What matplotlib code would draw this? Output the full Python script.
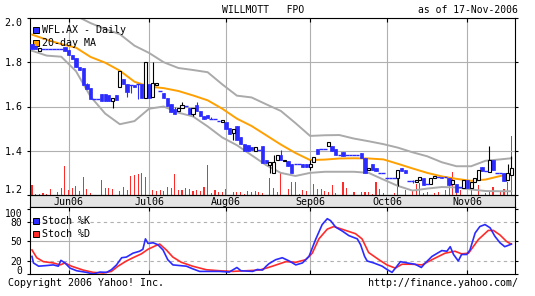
import matplotlib
matplotlib.use("Agg")
import matplotlib.pyplot as plt
from matplotlib.patches import Rectangle

plt.rcParams['font.family'] = 'DejaVu Sans Mono'

# daily candles, trading days 18-May-2006 .. 17-Nov-2006 (index 0..131)
opens = [1.882, 1.875, 1.852, 1.861, 1.861, 1.861, 1.861, 1.861, 1.861, 1.867,
         1.855, 1.835, 1.820, 1.780, 1.775, 1.700, 1.683, 1.633, 1.633, 1.655,
         1.655, 1.653, 1.627, 1.650, 1.690, 1.725, 1.700, 1.697, 1.695, 1.700,
         1.700, 1.640, 1.700, 1.645, 1.695, 1.672, 1.660, 1.640, 1.610, 1.588,
         1.580, 1.592, 1.602, 1.595, 1.565, 1.605, 1.580, 1.558, 1.560, 1.543,
         1.543, 1.535, 1.530, 1.532, 1.505, 1.482, 1.510, 1.460, 1.430, 1.425,
         1.415, 1.400, 1.403, 1.420, 1.360, 1.335, 1.300, 1.360, 1.383, 1.355,
         1.353, 1.340, 1.338, 1.338, 1.338, 1.338, 1.325, 1.350, 1.410, 1.409,
         1.409, 1.420, 1.420, 1.410, 1.383, 1.395, 1.383, 1.380, 1.380, 1.380,
         1.390, 1.368, 1.315, 1.338, 1.323, 1.300, 1.300, 1.277, 1.277, 1.277,
         1.277, 1.320, 1.315, 1.262, 1.262, 1.260, 1.270, 1.277, 1.250, 1.250,
         1.275, 1.283, 1.283, 1.280, 1.277, 1.250, 1.250, 1.235, 1.230, 1.270,
         1.232, 1.260, 1.270, 1.325, 1.308, 1.305, 1.356, 1.300, 1.300, 1.300,
         1.270, 1.290]
highs = [1.882, 1.875, 1.864, 1.861, 1.861, 1.861, 1.861, 1.861, 1.861, 1.867,
         1.855, 1.835, 1.820, 1.780, 1.775, 1.705, 1.683, 1.633, 1.633, 1.655,
         1.655, 1.653, 1.640, 1.650, 1.760, 1.725, 1.700, 1.697, 1.695, 1.700,
         1.700, 1.800, 1.700, 1.800, 1.705, 1.672, 1.660, 1.640, 1.610, 1.600,
         1.595, 1.620, 1.602, 1.595, 1.595, 1.620, 1.580, 1.558, 1.560, 1.553,
         1.543, 1.535, 1.540, 1.532, 1.505, 1.497, 1.510, 1.460, 1.430, 1.425,
         1.415, 1.415, 1.403, 1.420, 1.360, 1.350, 1.380, 1.380, 1.405, 1.357,
         1.353, 1.340, 1.338, 1.338, 1.338, 1.338, 1.360, 1.370, 1.410, 1.409,
         1.409, 1.440, 1.420, 1.410, 1.383, 1.395, 1.383, 1.380, 1.380, 1.380,
         1.390, 1.368, 1.322, 1.338, 1.323, 1.300, 1.300, 1.277, 1.277, 1.277,
         1.315, 1.320, 1.315, 1.262, 1.268, 1.270, 1.280, 1.277, 1.250, 1.277,
         1.285, 1.283, 1.283, 1.280, 1.277, 1.270, 1.250, 1.235, 1.270, 1.270,
         1.260, 1.275, 1.315, 1.325, 1.308, 1.420, 1.356, 1.300, 1.300, 1.300,
         1.340, 1.375]
lows = [1.862, 1.862, 1.852, 1.861, 1.861, 1.861, 1.861, 1.861, 1.861, 1.850,
        1.835, 1.815, 1.780, 1.765, 1.695, 1.680, 1.632, 1.633, 1.633, 1.625,
        1.625, 1.626, 1.595, 1.630, 1.690, 1.700, 1.645, 1.660, 1.688, 1.635,
        1.640, 1.640, 1.640, 1.645, 1.695, 1.672, 1.640, 1.603, 1.573, 1.565,
        1.580, 1.592, 1.602, 1.565, 1.555, 1.580, 1.558, 1.542, 1.550, 1.543,
        1.543, 1.535, 1.530, 1.500, 1.474, 1.450, 1.450, 1.430, 1.400, 1.400,
        1.403, 1.400, 1.403, 1.345, 1.345, 1.300, 1.300, 1.360, 1.360, 1.355,
        1.330, 1.300, 1.338, 1.338, 1.325, 1.325, 1.315, 1.350, 1.385, 1.409,
        1.409, 1.420, 1.400, 1.380, 1.383, 1.375, 1.383, 1.380, 1.380, 1.380,
        1.365, 1.300, 1.315, 1.315, 1.308, 1.300, 1.300, 1.277, 1.277, 1.277,
        1.240, 1.310, 1.300, 1.262, 1.256, 1.260, 1.270, 1.247, 1.250, 1.250,
        1.275, 1.283, 1.277, 1.280, 1.247, 1.250, 1.215, 1.235, 1.230, 1.230,
        1.232, 1.260, 1.270, 1.308, 1.308, 1.305, 1.315, 1.300, 1.300, 1.265,
        1.270, 1.290]
closes = [1.862, 1.862, 1.864, 1.861, 1.861, 1.861, 1.861, 1.861, 1.861, 1.850,
          1.835, 1.815, 1.780, 1.765, 1.695, 1.680, 1.632, 1.633, 1.633, 1.625,
          1.625, 1.626, 1.640, 1.630, 1.760, 1.700, 1.666, 1.697, 1.688, 1.700,
          1.640, 1.800, 1.640, 1.705, 1.705, 1.672, 1.640, 1.603, 1.573, 1.565,
          1.595, 1.608, 1.602, 1.565, 1.595, 1.580, 1.558, 1.542, 1.550, 1.543,
          1.543, 1.535, 1.540, 1.500, 1.474, 1.497, 1.450, 1.430, 1.400, 1.400,
          1.403, 1.415, 1.403, 1.345, 1.345, 1.350, 1.350, 1.380, 1.360, 1.357,
          1.330, 1.300, 1.338, 1.338, 1.325, 1.325, 1.340, 1.370, 1.385, 1.409,
          1.409, 1.440, 1.400, 1.380, 1.383, 1.375, 1.383, 1.380, 1.380, 1.380,
          1.365, 1.300, 1.322, 1.315, 1.308, 1.300, 1.300, 1.277, 1.277, 1.277,
          1.315, 1.310, 1.300, 1.262, 1.262, 1.270, 1.280, 1.247, 1.250, 1.277,
          1.285, 1.283, 1.277, 1.280, 1.247, 1.270, 1.215, 1.235, 1.270, 1.230,
          1.260, 1.275, 1.315, 1.308, 1.308, 1.356, 1.315, 1.300, 1.300, 1.265,
          1.300, 1.320]
# volume, arbitrary units
volume = [10, 1, 1, 2, 1, 6, 0, 3, 7, 29, 5, 7, 9, 4, 18, 6, 2, 0, 0, 15,
          7, 7, 6, 0, 4, 8, 5, 19, 20, 21, 22, 18, 5, 5, 4, 5, 4, 8, 7, 21,
          5, 5, 7, 6, 4, 5, 4, 8, 30, 2, 5, 3, 3, 6, 0, 3, 3, 3, 1, 4,
          3, 4, 3, 2, 0, 17, 7, 3, 23, 0, 6, 13, 13, 1, 5, 4, 11, 11, 6, 6,
          4, 3, 10, 2, 0, 13, 7, 0, 3, 0, 3, 3, 3, 1, 13, 6, 2, 0, 0, 2,
          25, 0, 5, 0, 5, 11, 12, 2, 3, 0, 2, 3, 0, 5, 13, 23, 5, 5, 0, 3,
          5, 0, 10, 0, 2, 3, 8, 0, 3, 6, 13, 59]

# 20-day MA and Bollinger bands, read every 4th day
sample_days = [0, 4, 8, 12, 16, 20, 24, 28, 32, 36, 40, 44, 48, 52, 56, 60, 64,
               68, 72, 76, 80, 84, 88, 92, 96, 100, 104, 108, 112, 116, 120, 124,
               128, 131]
ma20 = [1.925, 1.902, 1.882, 1.866, 1.824, 1.798, 1.762, 1.712, 1.690, 1.683,
        1.670, 1.650, 1.628, 1.590, 1.545, 1.512, 1.470, 1.428, 1.390, 1.358,
        1.360, 1.365, 1.366, 1.365, 1.361, 1.341, 1.320, 1.300, 1.284, 1.273,
        1.264, 1.270, 1.286, 1.293]
bb_upper = [2.06, 2.05, 2.03, 2.01, 1.977, 1.95, 1.927, 1.875, 1.842, 1.80,
            1.774, 1.765, 1.755, 1.70, 1.649, 1.641, 1.61, 1.58, 1.525, 1.467,
            1.47, 1.471, 1.455, 1.443, 1.43, 1.414, 1.393, 1.375, 1.348, 1.33,
            1.33, 1.355, 1.361, 1.366]
bb_lower = [1.852, 1.83, 1.825, 1.76, 1.645, 1.568, 1.52, 1.534, 1.59, 1.60,
            1.572, 1.555, 1.51, 1.46, 1.425, 1.38, 1.335, 1.30, 1.286, 1.30,
            1.305, 1.305, 1.305, 1.30, 1.27, 1.241, 1.22, 1.229, 1.236, 1.234,
            1.225, 1.218, 1.217, 1.217]

# stochastics
k_days = [0, 0.4, 1.8, 4.0, 5.8, 7.2, 7.9, 9.0, 10.4, 12.2, 14.9, 16.7, 18.6,
          20.4, 21.7, 23.1, 24.5, 25.8, 27.6, 29.4, 30.3, 31.0, 31.7, 33.1,
          34.4, 35.8, 37.1, 38.5, 40.3, 42.2, 43.9, 45.8, 48.5, 51.2, 53.9,
          56.0, 57.1, 60.3, 61.6, 63.0, 64.0, 64.8, 66.6, 68.4, 70.3, 72.1,
          73.9, 75.7, 77.5, 79.3, 80.7, 81.6, 83.0, 84.8, 86.6, 88.9, 89.8,
          90.9, 91.6, 93.4, 95.7, 97.0, 98.4, 99.3, 100.7, 102.5, 104.7, 106.4,
          107.5, 109.3, 112.0, 113.4, 114.3, 115.2, 116.5, 117.4, 118.8, 119.7,
          121.1, 122.4, 123.8, 125.2, 126.5, 127.9, 129.2, 130.6, 131]
k_vals = [27, 17, 12, 13, 14, 12, 21, 17, 9, 5, 2.5, 0, 3, 2.5, 6.6, 14, 25,
          26, 32, 35, 38, 54, 47, 48, 45, 37, 22, 14, 13, 12, 8, 4, 4, 4, 3,
          10, 5, 4, 7, 6, 12, 16, 22, 25, 20, 14, 17, 27, 53, 76, 85, 82, 72,
          66, 59, 54, 45, 27, 20, 17, 12, 7, 2.5, 9, 19, 17, 15, 10, 17, 27,
          36, 35, 42, 30, 20, 30, 30, 37, 63, 73, 76, 71, 58, 48, 42, 45, 46]
d_days = [0, 1.3, 3.1, 5.8, 7.7, 9.0, 10.8, 14.0, 16.7, 19.5, 21.7, 23.5, 25.8,
          27.6, 29.9, 31.7, 34.0, 34.9, 36.7, 38.5, 40.8, 43.9, 47.6, 51.2,
          54.8, 58.5, 62.1, 64.0, 65.7, 69.4, 72.1, 74.8, 76.6, 78.4, 80.7,
          82.5, 85.7, 88.4, 90.2, 92.0, 94.8, 97.0, 99.3, 101.1, 103.8, 106.6,
          109.3, 112.9, 115.6, 117.4, 119.3, 122.0, 124.7, 126.1, 127.9, 129.7,
          130.6, 131]
d_vals = [37, 25, 19, 17, 14, 17, 12, 6, 2.5, 1.5, 4, 12, 20, 25, 31, 38, 44,
          46, 37, 26, 18, 12, 6.6, 5, 4, 5, 6, 9, 12, 19, 18, 22, 32, 54, 69,
          73, 67, 62, 54, 33, 22, 14, 9, 15, 15, 14, 22, 32, 35, 31, 32, 53, 67,
          67, 60, 50, 47, 46]

month_days = [10, 32, 53, 76, 97, 119]
month_labels = ['Jun06', 'Jul06', 'Aug06', 'Sep06', 'Oct06', 'Nov06']
price_ticks = [1.2, 1.4, 1.6, 1.8, 2.0]
stoch_ticks = [0, 20, 50, 80, 100]

BLUE = '#2b2bff'
RED = '#ff2b2b'
ORANGE = '#ffa000'
BAND = '#aaaaaa'
GRID = '#b0b0b0'

W, H = 535, 296
fig = plt.figure(figsize=(W / 100, H / 100), dpi=100)


def rect(l, t, r, b):
    return [l / W, 1 - b / H, (r - l) / W, (b - t) / H]


ax = fig.add_axes(rect(30, 18, 515, 195))
axv = ax.twinx()
band = fig.add_axes(rect(30, 195, 515, 207))
sto = fig.add_axes(rect(30, 207, 515, 274))
xlim = (-0.55, 132.0)
days = list(range(len(closes)))

# volume sits behind the price panel
axv.bar(days, volume, width=0.3, color=RED, linewidth=0)
axv.set_ylim(0, 177)
axv.axis('off')
ax.set_zorder(axv.get_zorder() + 1)
ax.patch.set_visible(False)

ax.plot(sample_days, bb_upper, color=BAND, lw=1.4, zorder=2)
ax.plot(sample_days, bb_lower, color=BAND, lw=1.4, zorder=2)
ax.plot(sample_days, ma20, color=ORANGE, lw=1.4, zorder=3)

up = [i for i in days if closes[i] > opens[i]]
down = [i for i in days if closes[i] < opens[i]]
flat = [i for i in days if closes[i] == opens[i]]
ax.vlines(down + flat, [lows[i] for i in down + flat], [highs[i] for i in down + flat],
          color=BLUE, lw=0.8, zorder=4)
ax.vlines(up, [lows[i] for i in up], [highs[i] for i in up], color='black', lw=0.8, zorder=4)
ax.bar(down, [opens[i] - closes[i] for i in down], bottom=[closes[i] for i in down],
       width=0.9, color=BLUE, edgecolor=BLUE, lw=0.5, zorder=5)
ax.bar(up, [closes[i] - opens[i] for i in up], bottom=[opens[i] for i in up],
       width=0.85, color='white', edgecolor='black', lw=0.8, zorder=5)
ax.hlines([opens[i] for i in flat], [i - 0.5 for i in flat], [i + 0.5 for i in flat],
          color=BLUE, lw=1.0, zorder=5)

ax.set_xlim(xlim)
ax.set_ylim(1.2, 2.0)
ax.set_yticks(price_ticks)
ax.set_yticklabels([f'{v:.1f}' for v in price_ticks])
ax.set_xticks(month_days)
ax.set_axisbelow(True)
ax.grid(True, color=GRID, lw=0.8)
ax.tick_params(axis='x', bottom=False, top=True, direction='in', length=3, width=0.8,
               labelbottom=False)
ax.tick_params(axis='y', left=True, right=True, direction='out', length=2.5, width=0.8,
               labelsize=7.2, pad=3)
ticks = ax.yaxis.get_major_ticks()
ticks[0].label1.set_va('bottom')
ticks[-1].label1.set_va('top')

band.set_xlim(xlim)
band.set_ylim(0, 1)
band.set_facecolor('#e4e4e4')
band.set_xticks([])
band.set_yticks([])
for m, lab in zip(month_days, month_labels):
    band.text(m, 0.45, lab, ha='center', va='center', fontsize=7.2)

sto.set_xlim(xlim)
sto.set_ylim(0, 103)
for m in month_days:
    sto.axvline(m, color=GRID, lw=0.8, zorder=0)
sto.axhline(50, color=GRID, lw=0.8, zorder=0)
for lvl in (20, 80):
    sto.axhline(lvl, color=GRID, lw=0.8, ls=(0, (3, 3)), zorder=0)
sto.plot(d_days, d_vals, color=RED, lw=1.2)
sto.plot(k_days, k_vals, color=BLUE, lw=1.2)
sto.set_xticks(month_days)
sto.tick_params(axis='x', bottom=True, top=True, direction='in', length=3, width=0.8,
                labelbottom=False)
sto.set_yticks(stoch_ticks)
sto.set_yticklabels([str(v) for v in stoch_ticks])
sto.tick_params(axis='y', left=True, right=True, direction='out', length=2.5, width=0.8,
                labelsize=7, pad=3)
sticks = sto.yaxis.get_major_ticks()
sticks[0].label1.set_va('baseline')
sticks[-1].label1.set_va('top')

for a in (ax, band, sto):
    for s in a.spines.values():
        s.set_color('black')
        s.set_linewidth(0.8)

# legends
legend_items = [(30, BLUE, 'WFL.AX - Daily'), (43, ORANGE, '20-day MA'),
                (221, BLUE, 'Stoch %K'), (234, RED, 'Stoch %D')]
for yc, col, lab in legend_items:
    fig.add_artist(Rectangle((33 / W, 1 - (yc + 3) / H), 6 / W, 6 / H,
                             transform=fig.transFigure, fc=col, ec='black', lw=0.7))
    fig.text(42 / W, 1 - yc / H, lab, ha='left', va='center', fontsize=7.2)

fig.text(222 / W, 1 - 10 / H, 'WILLMOTT   FPO', ha='left', va='center', fontsize=7)
fig.text(518 / W, 1 - 10 / H, 'as of 17-Nov-2006', ha='right', va='center', fontsize=7)
fig.text(8 / W, 1 - 283 / H, 'Copyright 2006 Yahoo! Inc.', ha='left', va='center', fontsize=7.2)
fig.text(518 / W, 1 - 283 / H, 'http://finance.yahoo.com/', ha='right', va='center',
         fontsize=7.2)

fig.savefig('out.png', dpi=100)
